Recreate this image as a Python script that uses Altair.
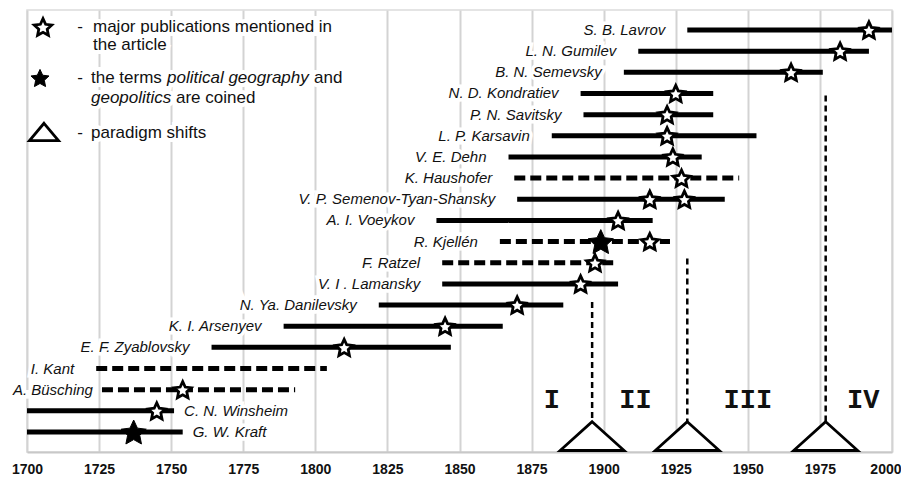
import math
import altair as alt
import pandas as pd

# ---------------- data ----------------
names = ["S. B. Lavrov", "L. N. Gumilev", "B. N. Semevsky", "N. D. Kondratiev",
         "P. N. Savitsky", "L. P. Karsavin", "V. E. Dehn", "K. Haushofer",
         "V. P. Semenov-Tyan-Shansky", "A. I. Voeykov", "R. Kjellén", "F. Ratzel",
         "V. I . Lamansky", "N. Ya. Danilevsky", "K. I. Arsenyev", "E. F. Zyablovsky",
         "I. Kant", "A. Büsching", "C. N. Winsheim", "G. W. Kraft"]
life_start = [1929, 1912, 1907, 1892, 1893, 1882, 1867, 1869, 1870, 1842,
              1864, 1844, 1844, 1822, 1789, 1764, 1724, 1726, 1700, 1700]
life_end = [2000, 1992, 1976, 1938, 1938, 1953, 1934, 1947, 1942, 1917,
            1923, 1905, 1905, 1886, 1865, 1847, 1804, 1793, 1751, 1754]
line_style = ["solid", "solid", "solid", "solid", "solid", "solid", "solid", "dashed",
              "solid", "solid", "dashed", "dashed", "solid", "solid", "solid", "solid",
              "dashed", "dashed", "solid", "solid"]

pub_names = ["S. B. Lavrov", "L. N. Gumilev", "B. N. Semevsky", "N. D. Kondratiev",
             "P. N. Savitsky", "L. P. Karsavin", "V. E. Dehn", "K. Haushofer",
             "V. P. Semenov-Tyan-Shansky", "V. P. Semenov-Tyan-Shansky", "A. I. Voeykov",
             "R. Kjellén", "F. Ratzel", "V. I . Lamansky", "N. Ya. Danilevsky",
             "K. I. Arsenyev", "E. F. Zyablovsky", "A. Büsching", "C. N. Winsheim"]
pub_years = [1992, 1982, 1965, 1925, 1922, 1922, 1924, 1927, 1916, 1928, 1905,
             1916, 1897, 1892, 1870, 1845, 1810, 1754, 1745]

coined_names = ["G. W. Kraft", "R. Kjellén"]
coined_years = [1737, 1899]

shift_years = [1896, 1929, 1977]
shift_top_rows = [12.85, 10.8, 3.1]   # where the dashed line begins (row units)

period_labels = ["I", "II", "III", "IV"]
period_years = [1882, 1911, 1950, 1990]

tick_years = list(range(1700, 2001, 25))

# ---------------- tables ----------------
row_of = {n: i for i, n in enumerate(names)}
bars = pd.DataFrame({"name": names, "row": list(range(len(names))),
                     "start": life_start, "end": life_end, "style": line_style})
pubs = pd.DataFrame({"name": pub_names, "year": pub_years,
                     "row": [row_of[n] for n in pub_names]})
coined = pd.DataFrame({"name": coined_names, "year": coined_years,
                       "row": [row_of[n] for n in coined_names]})
shifts = pd.DataFrame({"year": shift_years, "top": shift_top_rows})
periods = pd.DataFrame({"label": period_labels, "year": period_years})

# ---------------- geometry / style ----------------
W, H = 865, 442
PX_PER_YEAR = W / 300.0
FONT = "Liberation Sans, Arial, sans-serif"


def star_path(inner=0.48):
    pts = []
    for k in range(10):
        ang = -math.pi / 2 + k * math.pi / 5
        r = 1.0 if k % 2 == 0 else inner
        pts.append(f"{r * math.cos(ang):.3f},{r * math.sin(ang) + 0.095:.3f}")
    return "M" + "L".join(pts) + "Z"


STAR = star_path()
TRI = "M0,-0.9L1,0L-1,0Z"
TRI_LEG = "M0,-0.6L1,0.6L-1,0.6Z"

xscale = alt.Scale(domain=[1700, 2000], nice=False, zero=False)
yscale = alt.Scale(domain=[-0.945, 19.945], reverse=True, nice=False, zero=False)
xaxis = alt.Axis(values=tick_years, format="d", labelFont=FONT,
                 labelFontSize=14, labelFontWeight="bold", labelColor="#111111",
                 labelPadding=10, ticks=False, domainColor="#c8c8c8", domainWidth=2,
                 grid=True, gridColor="#d3d3d3", gridWidth=2, labelOverlap=False,
                 labelFlush=False, title=None,
                 labelAlign=alt.condition("datum.value == 2000", alt.value("right"), alt.value("center")),
                 labelOffset=alt.condition("datum.value == 2000", alt.value(9), alt.value(0)))


def X(field):
    return alt.X(f"{field}:Q", scale=xscale, axis=xaxis)


def Y(field):
    return alt.Y(f"{field}:Q", scale=yscale, axis=None)


base_bars = alt.Chart(bars)

lines = base_bars.mark_rule(strokeWidth=5, color="black", strokeCap="butt").encode(
    x=X("start"), x2="end:Q", y=Y("row"),
    strokeDash=alt.StrokeDash("style:N", scale=alt.Scale(domain=["solid", "dashed"],
                                                         range=[[1, 0], [11, 5]]), legend=None),
)

# labels sit left of the bar; they hug the bar when there is not enough room,
# and go to the right of the bar when the bar starts at the left edge
left_lab = base_bars.transform_filter("datum.start > 1700").transform_calculate(
    gap=f"(datum.start - 1700) * {PX_PER_YEAR} - 22 - length(datum.name) * 7.3 < -15 ? 9 : 22"
).transform_calculate(
    lab_x=f"datum.start - datum.gap / {PX_PER_YEAR}"
)
right_lab = base_bars.transform_filter("datum.start <= 1700").transform_calculate(
    lab_x=f"datum.end + 10 / {PX_PER_YEAR}"
)

lab_common = dict(font=FONT, fontSize=15, fontStyle="italic", baseline="middle")
labels = alt.layer(
    left_lab.mark_text(align="right", stroke="white", strokeWidth=7, fill="white",
                       **lab_common).encode(x=X("lab_x"), y=Y("row"), text="name:N"),
    left_lab.mark_text(align="right", color="#111111",
                       **lab_common).encode(x=X("lab_x"), y=Y("row"), text="name:N"),
    right_lab.mark_text(align="left", stroke="white", strokeWidth=7, fill="white",
                        **lab_common).encode(x=X("lab_x"), y=Y("row"), text="name:N"),
    right_lab.mark_text(align="left", color="#111111",
                        **lab_common).encode(x=X("lab_x"), y=Y("row"), text="name:N"),
)

shift_lines = alt.Chart(shifts).mark_rule(color="black", strokeWidth=2.5, strokeDash=[6, 4]).encode(
    x=X("year"), y=Y("top"), y2=alt.value(H - 27))

triangles = alt.Chart(shifts).mark_point(shape=TRI, size=4096, filled=True, fill="white",
                                         stroke="black", strokeWidth=2.8, opacity=1).encode(
    x=X("year"), y=alt.value(H - 1.5))

pub_stars = alt.Chart(pubs).mark_point(shape=STAR, size=320, filled=True, fill="white",
                                       stroke="black", strokeWidth=2.8, opacity=1).encode(
    x=X("year"), y=Y("row"))

coined_stars = alt.Chart(coined).mark_point(shape=STAR, size=700, filled=True, fill="black",
                                            stroke="black", strokeWidth=1, opacity=1).encode(
    x=X("year"), y=Y("row"))

period_text = alt.Chart(periods).mark_text(font="Liberation Mono, Courier New, monospace",
                                           fontSize=27, fontWeight="bold", baseline="middle",
                                           align="center", color="#111111").encode(
    x=X("year"), y=alt.value(390), text="label:N")


# ---------------- hand-made legend (pixel placed, upper left) ----------------
def leg_text(t, px, py, italic=False, align="left"):
    d = pd.DataFrame({"t": [t]})
    kw = dict(font=FONT, fontSize=17, baseline="middle", align=align)
    if italic:
        kw["fontStyle"] = "italic"
    halo = alt.Chart(d).mark_text(stroke="white", strokeWidth=8, fill="white", **kw).encode(
        text="t:N", x=alt.value(px), y=alt.value(py))
    txt = alt.Chart(d).mark_text(color="#111111", **kw).encode(
        text="t:N", x=alt.value(px), y=alt.value(py))
    return [halo, txt]


def leg_symbol(shape, size, fill, px, py, sw=2.5):
    d = pd.DataFrame({"s": [1]})
    return alt.Chart(d).mark_point(shape=shape, size=size, filled=True, fill=fill,
                                   stroke="black", strokeWidth=sw, opacity=1).encode(
        x=alt.value(px), y=alt.value(py))


legend_layers = []
legend_layers += [leg_symbol(STAR, 340, "white", 16, 17, sw=2.8)]
legend_layers += leg_text("-", 53, 17, align="center")
legend_layers += leg_text("major publications mentioned in", 66, 17)
legend_layers += leg_text("the article", 66, 35)
legend_layers += [leg_symbol(STAR, 360, "black", 13, 68, sw=1)]
legend_layers += leg_text("-", 53, 68, align="center")
legend_layers += leg_text("the terms", 64, 68)
legend_layers += leg_text("political geography", 140, 68, italic=True)
legend_layers += leg_text("and", 287, 68)
legend_layers += leg_text("geopolitics", 64, 88, italic=True)
legend_layers += leg_text("are coined", 149, 88)
legend_layers += [leg_symbol(TRI_LEG, 841, "white", 17, 122, sw=2.8)]
legend_layers += leg_text("-", 53, 123, align="center")
legend_layers += leg_text("paradigm shifts", 64, 123)

chart = alt.layer(
    shift_lines, lines, labels, triangles, pub_stars, coined_stars, period_text,
    *legend_layers,
).properties(
    width=W, height=H,
    autosize=alt.AutoSizeParams(type="none"),
    padding={"left": 19, "top": 2, "right": 9, "bottom": 26},
    background="white",
).configure_view(stroke="#dcdcdc", strokeWidth=1.5)

chart.save("out.html", embed_options={"renderer": "svg", "actions": False})
